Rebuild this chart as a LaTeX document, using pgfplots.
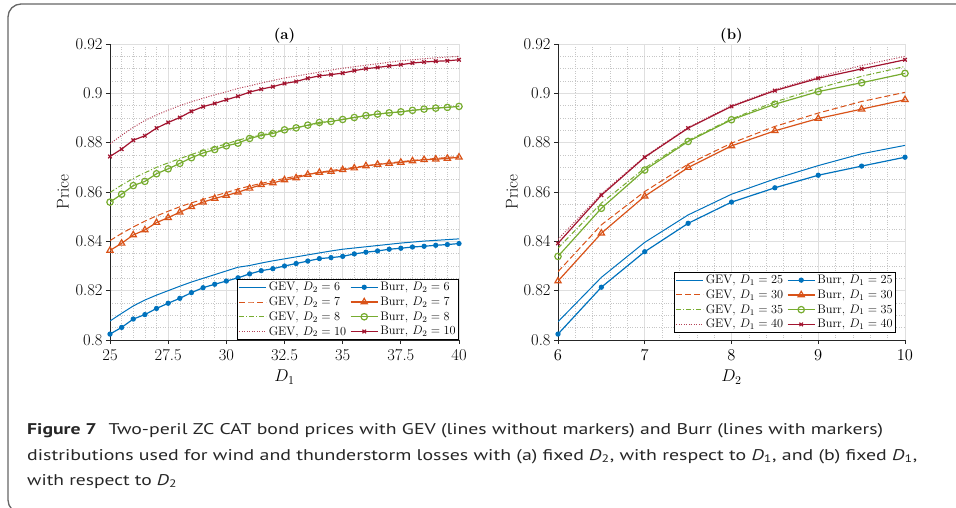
\RequirePackage{fix-cm}
\documentclass[border=0pt]{standalone}
\usepackage{fontspec}
\usepackage{pgfplots}
\pgfplotsset{compat=1.18}
\usepackage{pgfplotstable}
\usepackage{graphicx}
\newfontfamily\capfont{PT Sans}

\definecolor{mblue}{RGB}{0,114,189}
\definecolor{morange}{RGB}{217,83,25}
\definecolor{mgreen}{RGB}{119,172,48}
\definecolor{mred}{RGB}{162,20,47}

\pgfplotstableread{
x g6 b6 g7 b7 g8 b8 g10 b10
25 0.8077 0.8024 0.8403 0.8363 0.8598 0.8559 0.8795 0.8744
25.5 0.8108 0.8051 0.8432 0.8392 0.8628 0.8591 0.8830 0.8774
26 0.8138 0.8085 0.8458 0.8426 0.8655 0.8626 0.8862 0.8810
26.5 0.8162 0.8103 0.8482 0.8446 0.8678 0.8643 0.8890 0.8828
27 0.8182 0.8128 0.8503 0.8476 0.8700 0.8674 0.8912 0.8859
27.5 0.8200 0.8149 0.8522 0.8496 0.8718 0.8694 0.8932 0.8882
28 0.8218 0.8169 0.8540 0.8518 0.8735 0.8716 0.8950 0.8902
28.5 0.8235 0.8192 0.8556 0.8540 0.8752 0.8739 0.8966 0.8927
29 0.8250 0.8212 0.8570 0.8559 0.8768 0.8758 0.8980 0.8946
29.5 0.8265 0.8226 0.8584 0.8574 0.8782 0.8772 0.8994 0.8959
30 0.8280 0.8239 0.8598 0.8586 0.8795 0.8787 0.9006 0.8974
30.5 0.8295 0.8252 0.8612 0.8599 0.8810 0.8798 0.9020 0.8988
31 0.8302 0.8268 0.8624 0.8615 0.8822 0.8817 0.9030 0.9005
31.5 0.8312 0.8281 0.8635 0.8629 0.8832 0.8829 0.9042 0.9017
32 0.8321 0.8289 0.8645 0.8637 0.8842 0.8837 0.9052 0.9027
32.5 0.8329 0.8300 0.8655 0.8649 0.8852 0.8852 0.9062 0.9040
33 0.8337 0.8310 0.8664 0.8657 0.8861 0.8860 0.9070 0.9048
33.5 0.8345 0.8320 0.8672 0.8671 0.8870 0.8871 0.9078 0.9061
34 0.8353 0.8330 0.8680 0.8679 0.8878 0.8882 0.9086 0.9071
34.5 0.8361 0.8334 0.8687 0.8683 0.8886 0.8886 0.9094 0.9076
35 0.8368 0.8339 0.8694 0.8690 0.8894 0.8894 0.9102 0.9082
35.5 0.8373 0.8349 0.8700 0.8697 0.8902 0.8902 0.9108 0.9092
36 0.8378 0.8356 0.8706 0.8706 0.8909 0.8910 0.9114 0.9100
36.5 0.8383 0.8361 0.8712 0.8712 0.8915 0.8916 0.9120 0.9105
37 0.8388 0.8368 0.8718 0.8716 0.8921 0.8921 0.9126 0.9111
37.5 0.8393 0.8372 0.8723 0.8720 0.8926 0.8925 0.9132 0.9116
38 0.8397 0.8377 0.8728 0.8726 0.8931 0.8931 0.9136 0.9123
38.5 0.8401 0.8380 0.8732 0.8731 0.8936 0.8936 0.9140 0.9127
39 0.8404 0.8384 0.8736 0.8733 0.8940 0.8940 0.9144 0.9130
39.5 0.8407 0.8387 0.8740 0.8736 0.8944 0.8943 0.9147 0.9132
40 0.8410 0.8391 0.8744 0.8741 0.8948 0.8947 0.9150 0.9136
}\tablea

\pgfplotstableread{
x g25 b25 g30 b30 g35 b35 g40 b40
6 0.8074 0.8024 0.8277 0.8239 0.8372 0.8339 0.8408 0.8392
6.5 0.8254 0.8214 0.8467 0.8433 0.8555 0.8534 0.8592 0.8587
7 0.8396 0.8358 0.8602 0.8583 0.8697 0.8689 0.8744 0.8741
7.5 0.8507 0.8473 0.8713 0.8699 0.8809 0.8805 0.8862 0.8859
8 0.8591 0.8559 0.8798 0.8787 0.8896 0.8893 0.8950 0.8947
8.5 0.8653 0.8617 0.8866 0.8848 0.8965 0.8956 0.9015 0.9011
9 0.8707 0.8668 0.8920 0.8898 0.9021 0.9007 0.9066 0.9061
9.5 0.8755 0.8705 0.8967 0.8936 0.9069 0.9043 0.9113 0.9099
10 0.8789 0.8741 0.9004 0.8974 0.9109 0.9081 0.9150 0.9136
}\tableb

\pgfplotsset{
  mystyle/.style={
    scale only axis,
    height=296pt,
    ymin=0.8, ymax=0.92,
    ytick={0.8,0.82,0.84,0.86,0.88,0.9,0.92},
    yticklabels={0.8,0.82,0.84,0.86,0.88,0.9,0.92},
    minor y tick num=3,
    minor x tick num=4,
    grid=both,
    major grid style={gray!25, line width=0.7pt},
    minor grid style={gray!45, dotted, line width=0.5pt},
    axis x line*=bottom, axis y line*=left,
    axis line style={-, black!85, line width=0.8pt},
    tick align=outside,
    major tick length=4pt,
    minor tick length=0pt,
    tick style={black!85, line width=0.7pt},
    tick label style={font=\fontsize{16.5}{18}\selectfont},
    xticklabel style={yshift=-2pt},
    label style={font=\fontsize{17}{19}\selectfont},
    title style={font=\bfseries\fontsize{15}{17}\selectfont, at={(0.5,1)}, anchor=south, yshift=-9pt},
    ylabel={Price},
    legend columns=2,
    legend cell align=left,
    legend style={font=\fontsize{12.3}{14}\selectfont, draw=black, line width=0.8pt,
      inner sep=1pt, row sep=0.6pt,
      /tikz/every even column/.append style={column sep=2pt}},
    legend image code/.code={\draw[mark repeat=2,mark phase=2,#1] plot coordinates {(0pt,0pt) (13.5pt,0pt) (27pt,0pt)};},
    gev/.style={line width=1pt},
    burr/.style={line width=1.2pt},
  },
}

\begin{document}
\begin{tikzpicture}
\useasboundingbox (0,0) rectangle (956pt,507pt);
\draw[black!60, line width=1.3pt, rounded corners=13pt] (1100pt,503pt) -- (8pt,503pt) -- (8pt,-6pt) -- (1100pt,-6pt);

\begin{axis}[mystyle,
  at={(110pt,167pt)}, anchor=south west, width=349pt,
  xmin=25, xmax=40,
  xtick={25,27.5,30,32.5,35,37.5,40},
  xticklabels={25,27.5,30,32.5,35,37.5,40},
  title={(a)},
  xlabel={$D_1$},
  ylabel style={at={(axis description cs:-0.1347,0.5)}, anchor=center},
  xlabel style={at={(axis description cs:0.5,0)}, anchor=center, yshift=-37pt},
  legend style={at={(1,0)}, anchor=south east},
]
\addplot[gev, mblue, solid] table[x=x,y=g6] {\tablea};
\addlegendentry{GEV, $D_2=6$}
\addplot[burr, mblue, mark=*, mark size=2pt] table[x=x,y=b6] {\tablea};
\addlegendentry{Burr, $D_2=6$}
\addplot[gev, morange, dash pattern=on 6pt off 3pt] table[x=x,y=g7] {\tablea};
\addlegendentry{GEV, $D_2=7$}
\addplot[burr, morange, mark=triangle, mark size=3.6pt, mark options={solid}] table[x=x,y=b7] {\tablea};
\addlegendentry{Burr, $D_2=7$}
\addplot[gev, mgreen, dash pattern=on 5pt off 2pt on 1pt off 2pt] table[x=x,y=g8] {\tablea};
\addlegendentry{GEV, $D_2=8$}
\addplot[burr, mgreen, mark=o, mark size=3.2pt, mark options={solid}] table[x=x,y=b8] {\tablea};
\addlegendentry{Burr, $D_2=8$}
\addplot[gev, mred!80, dash pattern=on 1pt off 1.5pt] table[x=x,y=g10] {\tablea};
\addlegendentry{GEV, $D_2=10$}
\addplot[burr, mred, mark=x, mark size=2.5pt, mark options={solid}] table[x=x,y=b10] {\tablea};
\addlegendentry{Burr, $D_2=10$}
\end{axis}

\begin{axis}[mystyle,
  at={(558pt,167pt)}, anchor=south west, width=347pt,
  xmin=6, xmax=10,
  xtick={6,7,8,9,10},
  title={(b)},
  xlabel={$D_2$},
  ylabel style={at={(axis description cs:-0.1326,0.5)}, anchor=center},
  xlabel style={at={(axis description cs:0.5,0)}, anchor=center, yshift=-37pt},
  legend style={at={(0.974,0.024)}, anchor=south east},
]
\addplot[gev, mblue, solid] table[x=x,y=g25] {\tableb};
\addlegendentry{GEV, $D_1=25$}
\addplot[burr, mblue, mark=*, mark size=2pt] table[x=x,y=b25] {\tableb};
\addlegendentry{Burr, $D_1=25$}
\addplot[gev, morange, dash pattern=on 6pt off 3pt] table[x=x,y=g30] {\tableb};
\addlegendentry{GEV, $D_1=30$}
\addplot[burr, morange, mark=triangle, mark size=3.6pt, mark options={solid}] table[x=x,y=b30] {\tableb};
\addlegendentry{Burr, $D_1=30$}
\addplot[gev, mgreen, dash pattern=on 5pt off 2pt on 1pt off 2pt] table[x=x,y=g35] {\tableb};
\addlegendentry{GEV, $D_1=35$}
\addplot[burr, mgreen, mark=o, mark size=3.2pt, mark options={solid}] table[x=x,y=b35] {\tableb};
\addlegendentry{Burr, $D_1=35$}
\addplot[gev, mred!80, dash pattern=on 1pt off 1.5pt] table[x=x,y=g40] {\tableb};
\addlegendentry{GEV, $D_1=40$}
\addplot[burr, mred, mark=x, mark size=2.5pt, mark options={solid}] table[x=x,y=b40] {\tableb};
\addlegendentry{Burr, $D_1=40$}
\end{axis}

\begin{scope}[every node/.style={inner sep=0pt, anchor=base west, text=black!85}]
\node at (27pt,73pt) {\resizebox{856pt}{\height}{\capfont\fontsize{15.5}{18}\selectfont\textbf{Figure 7}\hspace{0.6em}Two-peril ZC CAT bond prices with GEV (lines without markers) and Burr (lines with markers)}};
\node at (27pt,47pt) {\resizebox{890pt}{\height}{\capfont\fontsize{15.5}{18}\selectfont distributions used for wind and thunderstorm losses with (a) fixed \textit{D}\textsubscript{2}, with respect to \textit{D}\textsubscript{1}, and (b) fixed \textit{D}\textsubscript{1},}};
\node at (27pt,22pt) {\resizebox{150pt}{\height}{\capfont\fontsize{15.5}{18}\selectfont with respect to \textit{D}\textsubscript{2}}};
\end{scope}
\end{tikzpicture}
\end{document}
